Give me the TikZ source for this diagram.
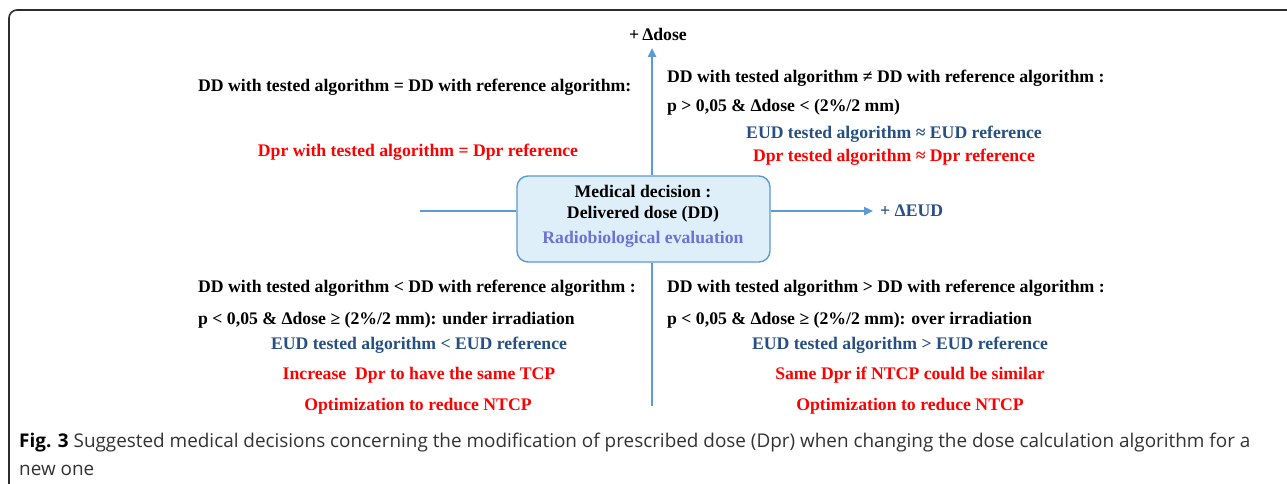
\documentclass[tikz,border=0pt]{standalone}
\usepackage{fontspec}
\setmainfont{Liberation Serif}
\newfontfamily\capfont{Open Sans}
\usetikzlibrary{arrows.meta}
\definecolor{axisblue}{RGB}{91,155,213}
\definecolor{boxfill}{RGB}{222,239,250}
\definecolor{eudblue}{RGB}{38,80,132}
\definecolor{radpurple}{RGB}{112,112,214}
\definecolor{framegray}{RGB}{45,45,45}

\begin{document}
\begin{tikzpicture}[x=1pt,y=-1pt,
  txt/.style={font=\bfseries\fontsize{17.7}{21}\selectfont,inner sep=0pt},
  captext/.style={font=\capfont\fontsize{18.9}{22}\selectfont,inner sep=0pt,anchor=base west,text=black!80},
  axis/.style={axisblue,line width=2.6pt},
  tip/.style={-{Triangle[length=9pt,width=8pt]}}]
\useasboundingbox (0,0) rectangle (1287,484);
\clip (0,0) rectangle (1287,484);
\fill[white] (0,0) rectangle (1287,484);
\draw[framegray,line width=1.6pt,rounded corners=8pt] (1300,10)--(9,10)--(9,492)--(1300,492);

\node[draw=axisblue,fill=boxfill,line width=1.4pt,rounded corners=11pt,
  minimum width=253pt,minimum height=86pt,inner sep=0pt] (box) at (643.5,219) {};
\coordinate (dtop) at (652,48);
\coordinate (dbot) at (652,406);
\coordinate (eleft) at (420,211);
\coordinate (eright) at (873,211);
\draw[axis,tip] (box.north -| dtop) -- (dtop);
\draw[axis] (box.south -| dbot) -- (dbot);
\draw[axis] (eleft) -- (box.west |- eleft);
\draw[axis,tip] (box.east |- eright) -- (eright);

\node[txt,anchor=base] (mdec) at (643,197) {Medical decision :};
\node[txt,anchor=base] (ddose) at (643,218) {Delivered dose (DD)};
\node[txt,anchor=base,radpurple] (radio) at (643,243) {Radiobiological evaluation};
\node[txt,anchor=base] (dosel) at (658,41) {+\,Δdose};
\node[txt,anchor=base west,eudblue] (eudl) at (880,216) {+ ΔEUD};

\node[txt,anchor=base west] (eqhead) at (198,92) {DD with tested algorithm = DD with reference algorithm:};
\node[txt,anchor=base,red] (eqdpr) at (418,156) {Dpr with tested algorithm = Dpr reference};

\node[txt,anchor=base west] (nehead) at (667,83) {DD with tested algorithm ≠ DD with reference algorithm :};
\node[txt,anchor=base west] (nep) at (667,112) {p > 0,05 \& Δdose < (2\%/2 mm)};
\node[txt,anchor=base,eudblue] (neeud) at (894,139) {EUD tested algorithm ≈ EUD reference};
\node[txt,anchor=base,red] (nedpr) at (894,161) {Dpr tested algorithm ≈ Dpr reference};

\node[txt,anchor=base west] (lthead) at (198,292) {DD with tested algorithm < DD with reference algorithm :};
\node[txt,anchor=base west] (ltp) at (198,324) {p < 0,05 \& Δdose ≥ (2\%/2 mm): under irradiation};
\node[txt,anchor=base,eudblue] (lteud) at (419,349) {EUD tested algorithm < EUD reference};
\node[txt,anchor=base,red] (ltdpr) at (419,379) {Increase\ \ Dpr to have the same TCP};
\node[txt,anchor=base,red] (ltntcp) at (418,410) {Optimization to reduce NTCP};

\node[txt,anchor=base west] (gthead) at (667,292) {DD with tested algorithm > DD with reference algorithm :};
\node[txt,anchor=base west] (gtp) at (667,324) {p < 0,05 \& Δdose ≥ (2\%/2 mm): over irradiation};
\node[txt,anchor=base,eudblue] (gteud) at (900,349) {EUD tested algorithm > EUD reference};
\node[txt,anchor=base,red] (gtdpr) at (910,379) {Same Dpr if NTCP could be similar};
\node[txt,anchor=base,red] (gtntcp) at (910,410) {Optimization to reduce NTCP};

\node[captext] (capa) at (19,447) {\textcolor{black}{\textbf{Fig. 3}} Suggested medical decisions concerning the modification of prescribed dose (Dpr) when changing the dose calculation algorithm for a};
\node[captext] (capb) at (19,475) {new one};
\end{tikzpicture}
\end{document}
